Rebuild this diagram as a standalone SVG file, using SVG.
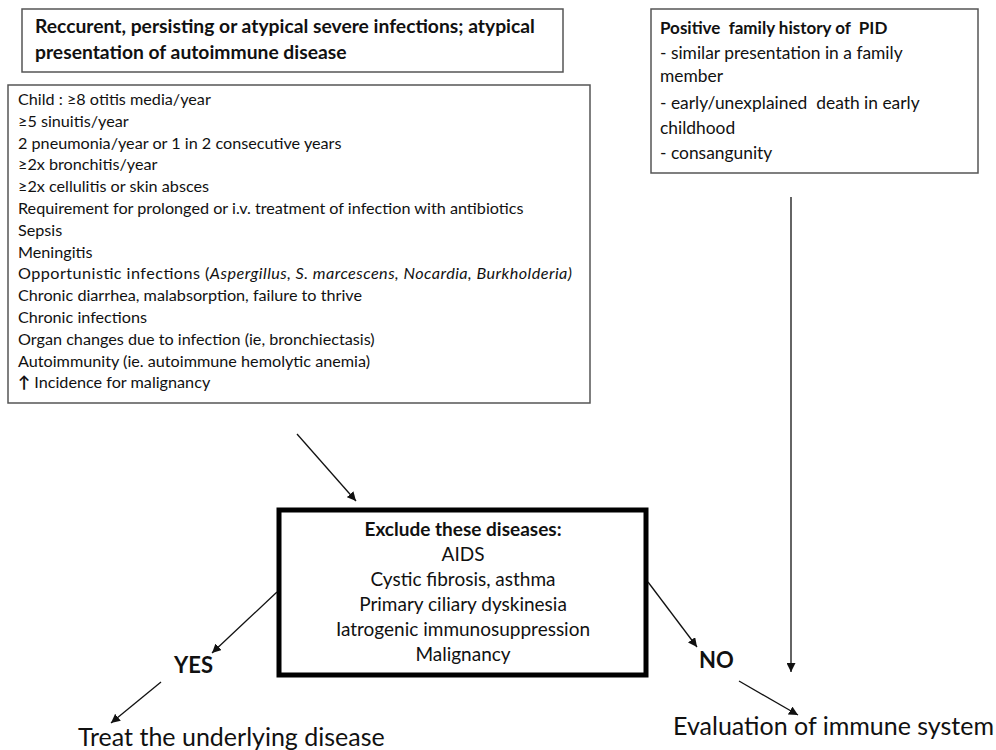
<svg xmlns="http://www.w3.org/2000/svg" width="996" height="750" viewBox="0 0 996 750">
<defs>
<style>
text{font-family:Lato,"Open Sans","Liberation Sans",sans-serif;fill:#111}
.b{font-weight:bold}
.box{fill:#fff;stroke:#555;stroke-width:1.5}
.thick{fill:#fff;stroke:#000;stroke-width:5}
.c{stroke:#111;stroke-width:1.3;fill:none;marker-end:url(#ah)}
.l{font-size:16.2px}
.r{font-size:17.4px}
.m{font-size:19px}
.big{font-size:25px}
</style>
<marker id="ah" viewBox="0 0 10 10" refX="10" refY="5" markerWidth="9" markerHeight="9" markerUnits="userSpaceOnUse" orient="auto">
<path d="M0,0 L10,5 L0,10 z" fill="#111"/>
</marker>
</defs>
<rect width="996" height="750" fill="#fff"/>
<g id="infections-title">
<rect class="box" x="22" y="9" width="541" height="63"/>
<text class="b" font-size="19.3" x="35" y="33">Reccurent, persisting or atypical severe infections; atypical</text>
<text class="b" font-size="19.3" x="35" y="59">presentation of autoimmune disease</text>
</g>
<g id="criteria">
<rect class="box" x="8" y="85" width="582" height="318"/>
<text class="l" x="18" y="105">Child : ≥8 otitis media/year</text>
<text class="l" x="18" y="126.8">≥5 sinuitis/year</text>
<text class="l" x="18" y="148.6">2 pneumonia/year or 1 in 2 consecutive years</text>
<text class="l" x="18" y="170.4">≥2x bronchitis/year</text>
<text class="l" x="18" y="192.2">≥2x cellulitis or skin absces</text>
<text class="l" x="18" y="214">Requirement for prolonged or i.v. treatment of infection with antibiotics</text>
<text class="l" x="18" y="235.8">Sepsis</text>
<text class="l" x="18" y="257.6">Meningitis</text>
<text class="l" x="18" y="279.4" textLength="554" lengthAdjust="spacing">Opportunistic infections (<tspan font-style="italic">Aspergillus, S. marcescens, Nocardia, Burkholderia)</tspan></text>
<text class="l" x="18" y="301.2">Chronic diarrhea, malabsorption, failure to thrive</text>
<text class="l" x="18" y="323">Chronic infections</text>
<text class="l" x="18" y="344.8">Organ changes due to infection (ie, bronchiectasis)</text>
<text class="l" x="18" y="366.6">Autoimmunity (ie. autoimmune hemolytic anemia)</text>
<text class="l" x="18" y="388.4"><tspan class="b">↑</tspan> Incidence for malignancy</text>
</g>
<g id="family-history">
<rect class="box" x="651" y="9" width="327" height="164"/>
<text class="b" font-size="17" x="660" y="34" xml:space="preserve">Positive  family history of  PID</text>
<text class="r" x="660" y="59">- similar presentation in a family</text>
<text class="r" x="660" y="82">member</text>
<text class="r" x="660" y="109" xml:space="preserve">- early/unexplained  death in early</text>
<text class="r" x="660" y="134">childhood</text>
<text class="r" x="660" y="159">- consangunity</text>
</g>
<g id="exclude">
<rect class="thick" x="279" y="510" width="367" height="165"/>
<g class="m" text-anchor="middle">
<text class="b" x="463" y="536">Exclude these diseases:</text>
<text x="463" y="561">AIDS</text>
<text x="463" y="586">Cystic fibrosis, asthma</text>
<text x="463" y="611">Primary ciliary dyskinesia</text>
<text x="463" y="636">Iatrogenic immunosuppression</text>
<text x="463" y="661">Malignancy</text>
</g>
</g>
<g id="yes"><text class="b" font-size="22" x="174" y="673">YES</text></g>
<g id="no"><text class="b" font-size="22" x="699" y="668">NO</text></g>
<g id="treat"><text class="big" x="78" y="746">Treat the underlying disease</text></g>
<g id="evaluation"><text class="big" x="994" y="735" text-anchor="end">Evaluation of immune system</text></g>
<g id="connectors">
<line class="c" x1="297" y1="434" x2="356" y2="501"/>
<line class="c" x1="277" y1="592" x2="212" y2="653"/>
<line class="c" x1="161" y1="682" x2="111" y2="723"/>
<line class="c" x1="648" y1="582" x2="697" y2="647"/>
<line class="c" x1="739" y1="681" x2="798" y2="715"/>
<line class="c" x1="791" y1="197" x2="791" y2="672"/>
</g>
</svg>
